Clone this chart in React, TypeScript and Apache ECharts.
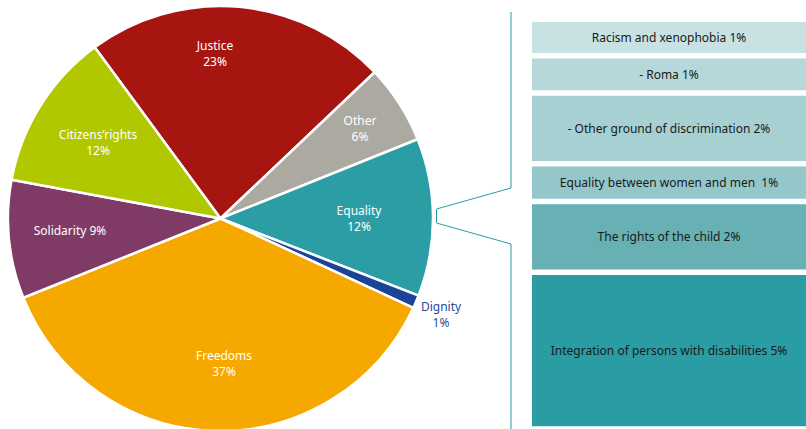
import React, { useEffect, useRef } from "react";
import * as echarts from "echarts";

const pieNames = ["Justice", "Other", "Equality", "Dignity", "Freedoms", "Solidarity", "Citizens\u2019rights"];
const pieValues = [23, 6, 12, 1, 37, 9, 12];
const pieColors = ["#a71511", "#aca9a1", "#2a9da5", "#1b4396", "#f5a800", "#7f3a66", "#b1c800"];
const pieLabelText = ["Justice\n23%", "Other\n6%", "Equality\n12%", "Dignity\n1%", "Freedoms\n37%", "Solidarity 9%", "Citizens\u2019rights\n12%"];
const pieLabelPos: [number, number][] = [
  [215, 53],
  [360, 128],
  [359, 218],
  [441, 314],
  [224, 363],
  [70, 230],
  [98, 142],
];

const boxLabels = [
  "Racism and xenophobia 1%",
  "- Roma 1%",
  "- Other ground of discrimination 2%",
  "Equality between women and men  1%",
  "The rights of the child 2%",
  "Integration of persons with disabilities 5%",
];
const boxValues = [1.03, 1.05, 2.0, 1.06, 2.0, 4.42];
const boxColors = ["#c8e2e4", "#b6d8da", "#a6d0d2", "#94c7c9", "#67b0b3", "#2a9da4"];

export default function App() {
  const ref = useRef<HTMLDivElement>(null);
  useEffect(() => {
    document.body.style.margin = "0";
    if (!ref.current) return;
    const chart = echarts.init(ref.current, undefined, { renderer: "svg" });
    const total = boxValues.reduce((a, b) => a + b, 0);
    const font = "'Noto Sans', sans-serif";
    const gap = 5.5;
    let acc = 0;
    const boxData = boxValues.map((v, i) => {
      const start = acc;
      acc += v;
      return { value: [start, acc], name: boxLabels[i], itemStyle: { color: boxColors[i] } };
    });
    const option: any = {
      animation: false,
      backgroundColor: "#ffffff",
      grid: { left: 532, top: 22 - gap / 2, width: 274, height: 406 + gap },
      xAxis: { type: "value", min: 0, max: 1, show: false },
      yAxis: { type: "value", inverse: true, min: 0, max: total, show: false },
      graphic: [
        {
          type: "polyline",
          shape: {
            points: [
              [511, 12],
              [511, 188],
              [436.5, 209],
              [436.5, 223],
              [511, 244],
              [511, 429],
            ],
          },
          style: { stroke: "#2a9da5", lineWidth: 1, fill: "none" },
        },
      ],
      series: [
        {
          type: "pie",
          center: [220.5, 218.5],
          radius: 212.5,
          startAngle: 126.3,
          clockwise: true,
          data: pieNames.map((n, i) => ({
            name: n,
            value: pieValues[i],
            itemStyle: { color: pieColors[i] },
            label: i === 3 ? { color: "#1f4a9a" } : undefined,
          })),
          itemStyle: { borderColor: "#ffffff", borderWidth: 2.5 },
          label: {
            show: true,
            position: "inside",
            color: "#ffffff",
            fontFamily: font,
            fontSize: 12,
            lineHeight: 16,
            align: "center",
            verticalAlign: "middle",
            formatter: (p: any) => pieLabelText[p.dataIndex],
          },
          labelLine: { show: false },
          emphasis: { disabled: true },
          labelLayout: (p: any) =>
            p.seriesIndex === 0
              ? { x: pieLabelPos[p.dataIndex][0], y: pieLabelPos[p.dataIndex][1] }
              : {},
        },
        {
          type: "custom",
          data: boxData,
          encode: { y: [0, 1] },
          renderItem: (params: any, api: any) => {
            const s = api.value(0);
            const e = api.value(1);
            const p0 = api.coord([0, s]);
            const p1 = api.coord([1, e]);
            const x = p0[0];
            const w = p1[0] - p0[0];
            const y = p0[1] + gap / 2;
            const h = p1[1] - p0[1] - gap;
            return {
              type: "rect",
              shape: { x, y, width: w, height: h },
              style: { fill: boxColors[params.dataIndex] },
              textContent: {
                style: {
                  text: boxLabels[params.dataIndex],
                  fill: "#1a1a1a",
                  fontFamily: font,
                  fontSize: 12,
                },
              },
              textConfig: { position: "inside" },
            };
          },
        },
      ],
    };
    chart.setOption(option);
    return () => chart.dispose();
  }, []);
  return <div ref={ref} style={{ position: "absolute", left: 0, top: 0, width: 806, height: 429 }} />;
}
